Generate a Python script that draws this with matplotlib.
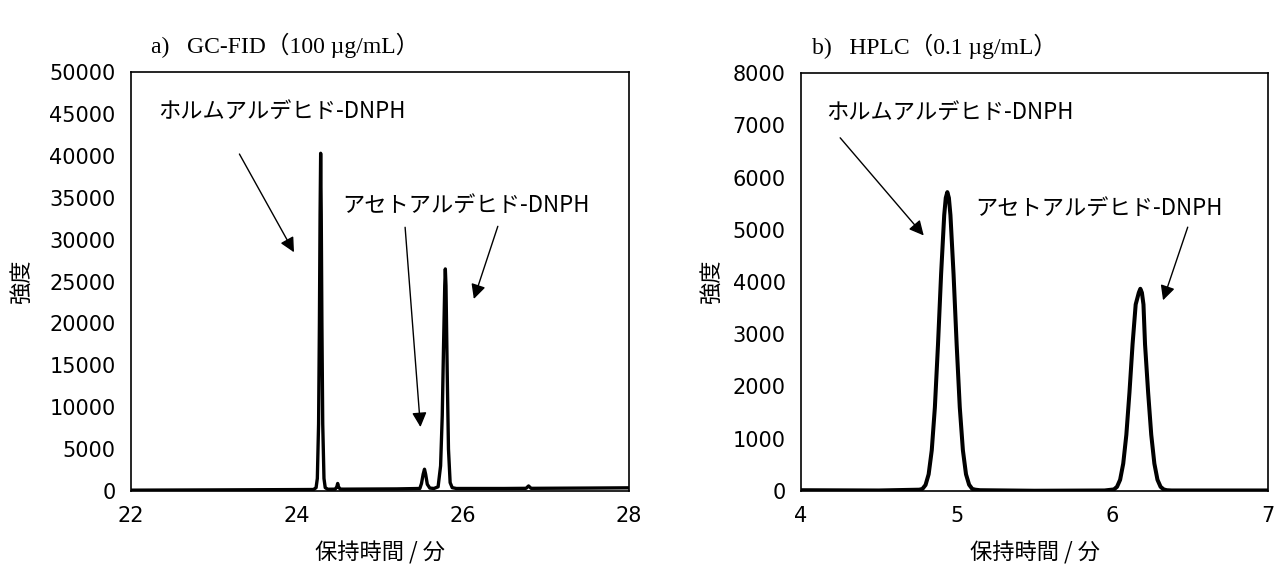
import matplotlib.pyplot as plt
from matplotlib import font_manager

# Fonts: CJK for Japanese text, narrow sans for tick numbers, serif for titles
jp_font = ['Noto Sans CJK JP', 'DejaVu Sans']
num_names = {f.name for f in font_manager.fontManager.ttflist}
num_font = 'Liberation Sans Narrow' if 'Liberation Sans Narrow' in num_names else 'DejaVu Sans'
title_font = ['Liberation Serif', 'Noto Sans CJK JP']

# a) GC-FID chromatogram (retention time / min, intensity)
gc_time = [22.00, 23.00, 24.00, 24.20, 24.23, 24.245, 24.26, 24.27, 24.278, 24.285,
           24.292, 24.30, 24.31, 24.325, 24.34, 24.37, 24.46, 24.48, 24.49, 24.50,
           24.52, 24.56, 25.20, 25.48, 25.50, 25.52, 25.536, 25.55, 25.57, 25.60,
           25.65, 25.70, 25.73, 25.75, 25.765, 25.78, 25.787, 25.795, 25.81, 25.825,
           25.845, 25.87, 25.92, 26.50, 26.76, 26.79, 26.82, 26.86, 27.50, 28.00]
gc_intensity = [100, 130, 170, 180, 400, 1500, 8000, 20000, 33000, 40300,
                33000, 20000, 8000, 1500, 400, 210, 220, 500, 900, 500,
                230, 220, 250, 300, 900, 2000, 2600, 2000, 800, 350,
                300, 500, 3000, 9000, 17000, 24500, 26500, 24500, 14000, 5000,
                1000, 400, 300, 300, 320, 600, 320, 320, 350, 380]

# b) HPLC chromatogram
lc_time = [4.00, 4.50, 4.76, 4.78, 4.80, 4.82, 4.84, 4.86, 4.88, 4.90,
           4.92, 4.93, 4.94, 4.95, 4.96, 4.98, 5.00, 5.02, 5.04, 5.06,
           5.08, 5.10, 5.12, 5.15, 5.50, 5.95, 6.01, 6.03, 6.05, 6.07,
           6.09, 6.11, 6.13, 6.15, 6.17, 6.18, 6.19, 6.20, 6.21, 6.23,
           6.25, 6.27, 6.29, 6.31, 6.33, 6.35, 6.38, 6.70, 7.00]
lc_intensity = [15, 10, 25, 40, 115, 320, 780, 1600, 2800, 4150,
                5280, 5610, 5720, 5610, 5280, 4150, 2800, 1600, 780, 320,
                120, 40, 25, 15, 5, 10, 30, 80, 215, 525,
                1075, 1885, 2810, 3570, 3795, 3870, 3795, 3570, 2810, 1885,
                1075, 525, 215, 80, 30, 15, 10, 10, 10]

fig = plt.figure(figsize=(12.76, 5.74), dpi=100)
ax1 = fig.add_axes([131 / 1276, 1 - 491 / 574, 498 / 1276, 419 / 574])
ax2 = fig.add_axes([801 / 1276, 1 - 491 / 574, 467 / 1276, 418 / 574])

ax1.plot(gc_time, gc_intensity, color='black', lw=2.4, solid_joinstyle='round')
ax2.plot(lc_time, lc_intensity, color='black', lw=2.9, solid_joinstyle='round')

ax1.set_xlim(22, 28)
ax1.set_ylim(0, 50000)
ax1.set_xticks(range(22, 29, 2))
ax1.set_yticks(range(0, 50001, 5000))
ax2.set_xlim(4, 7)
ax2.set_ylim(0, 8000)
ax2.set_xticks(range(4, 8))
ax2.set_yticks(range(0, 8001, 1000))

for ax in (ax1, ax2):
    ax.tick_params(length=0, pad=11)
    for lbl in ax.get_xticklabels() + ax.get_yticklabels():
        lbl.set_family(num_font)
        lbl.set_fontsize(15)
    for s in ax.spines.values():
        s.set_linewidth(1.2)
    ax.set_xlabel('保持時間 / 分', family=jp_font, fontsize=16, labelpad=11)

ax1.set_ylabel('強度', family=jp_font, fontsize=16, labelpad=12)
ax2.set_ylabel('強度', family=jp_font, fontsize=16, labelpad=7)

ax1.set_title('a)   GC-FID（100 µg/mL）', family=title_font, fontsize=17, pad=14,
              x=0.31)
ax2.set_title('b)   HPLC（0.1 µg/mL）', family=title_font, fontsize=17, pad=14,
              x=0.285)

arrow = dict(arrowstyle='-|>', color='black', lw=1.0, mutation_scale=22)

# annotations in panel a
ax1.text(22.33, 45300, 'ホルムアルデヒド-DNPH', family=jp_font, fontsize=16, va='center')
ax1.annotate('', xy=(23.98, 28200), xytext=(23.29, 40500), arrowprops=arrow)
ax1.text(24.55, 34100, 'アセトアルデヒド-DNPH', family=jp_font, fontsize=16, va='center')
ax1.annotate('', xy=(25.49, 7300), xytext=(25.30, 31800), arrowprops=arrow)
ax1.annotate('', xy=(26.12, 22600), xytext=(26.43, 31900), arrowprops=arrow)

# annotations in panel b
ax2.text(4.16, 7250, 'ホルムアルデヒド-DNPH', family=jp_font, fontsize=16, va='center')
ax2.annotate('', xy=(4.80, 4850), xytext=(4.24, 6800), arrowprops=arrow)
ax2.text(5.12, 5400, 'アセトアルデヒド-DNPH', family=jp_font, fontsize=16, va='center')
ax2.annotate('', xy=(6.32, 3600), xytext=(6.49, 5100), arrowprops=arrow)

fig.savefig('out.png', dpi=100)
